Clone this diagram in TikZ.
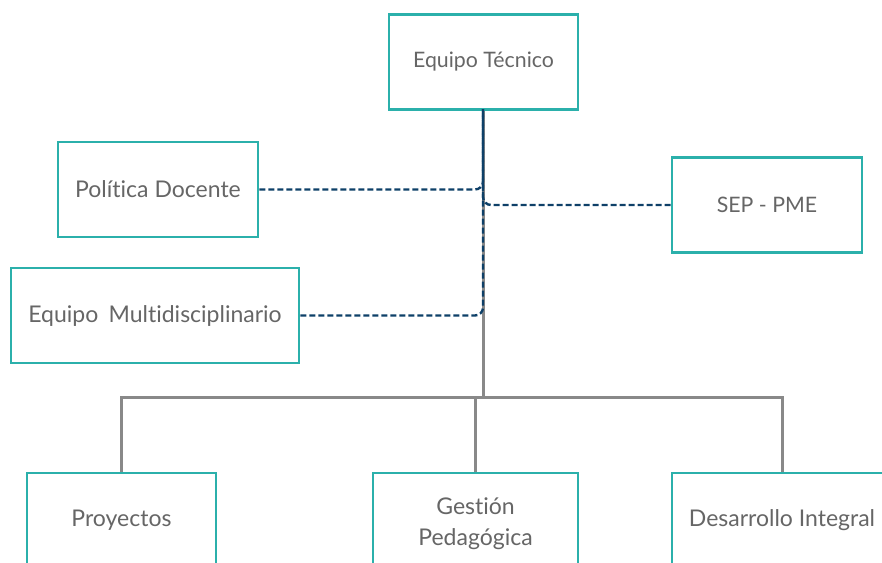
\documentclass[tikz,border=0pt]{standalone}
\usepackage{fontspec}
\setmainfont[Ligatures=NoCommon]{Lato}
\usepackage{xcolor}
\usetikzlibrary{positioning,calc}
\definecolor{boxteal}{HTML}{2BB0AB}
\definecolor{linegrey}{HTML}{898989}
\definecolor{linkblue}{HTML}{0E4068}
\definecolor{textgrey}{HTML}{666666}

\begin{document}
\begin{tikzpicture}[x=1pt, y=-1pt,
    unit/.style={draw=boxteal, line width=2.8pt, fill=white, text=textgrey,
        font=\fontsize{21.3}{26}\selectfont, inner sep=0pt,
        minimum height=95pt, align=center},
    big/.style={font=\fontsize{23}{28}\selectfont},
    trunk/.style={draw=linegrey, line width=3pt},
    link/.style={draw=linkblue, line width=2.4pt, dash pattern=on 6pt off 3pt, rounded corners=8pt}]
    \useasboundingbox (0,0) rectangle (882,562);
    \clip (0,0) rectangle (882,562);

    \coordinate (bar) at (483,397);
    \coordinate (top) at (483,109);

    % grey tree lines
    \draw[trunk] (top) -- (bar);

    \node[unit, minimum width=189pt] (tecnico) at (483.5,62) {Equipo Técnico};
    \node[unit, big, minimum width=200pt] (politica) at (158,189.5) {Política Docente};
    \node[unit, minimum width=190pt] (sep) at (767,205) {SEP - PME};
    \node[unit, big, minimum width=288pt] (multi) at (155,315.5) {Equipo\hspace{0.45em}Multidisciplinario};
    \node[unit, big, minimum width=189pt] (proyectos) at (121.5,520.5) {Proyectos};
    \node[unit, big, minimum width=205pt] (gestion) at (475.5,520.5) {\rule{0pt}{23pt}Gestión\\[3pt]Pedagógica};
    \node[unit, big, minimum width=220pt] (desarrollo) at (782,520.5) {Desarrollo Integral};

    \draw[trunk] (proyectos.north) |- (bar);
    \draw[trunk] (gestion.north) |- (bar);
    \draw[trunk] (desarrollo.north) |- (bar);

    % dashed links to the top box
    \draw[link] (politica.east) -| (top);
    \draw[link] (sep.west) -| (top);
    \draw[link] (multi.east) -| (top);
\end{tikzpicture}
\end{document}
